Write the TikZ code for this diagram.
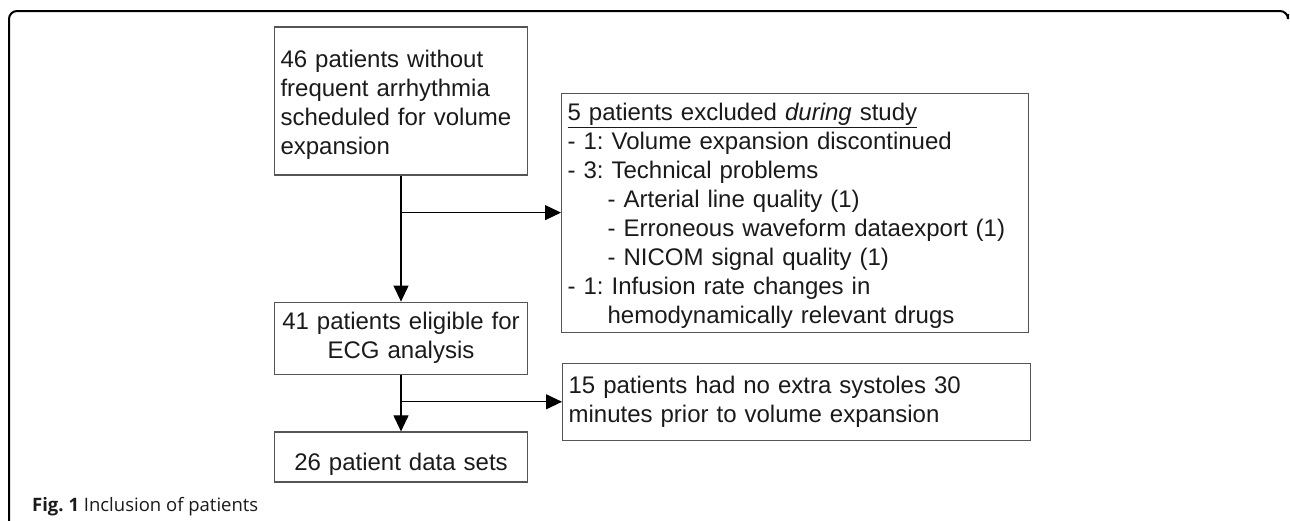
\documentclass[tikz,border=0pt]{standalone}
\usepackage{fontspec}
\setmainfont{Liberation Sans}
\newfontfamily\capfont{Open Sans}
\usetikzlibrary{positioning,arrows.meta,calc}
\frenchspacing

\definecolor{boxline}{HTML}{555555}
\definecolor{boxtext}{HTML}{1A1A1A}
\newcommand{\padtop}[1]{\rule{0pt}{#1}}

\tikzset{
  flowbox/.style={draw=boxline, line width=1.2pt, text=boxtext, inner xsep=6pt, inner ysep=0pt,
    font=\fontsize{24}{29}\selectfont, align=left},
  flowarrow/.style={-{Triangle[length=16pt,width=15pt]}, line width=1.1pt},
}

\begin{document}
\begin{tikzpicture}[x=1pt,y=-1pt]
\useasboundingbox (0,0) rectangle (1290,520);
% frame
\draw[line width=2pt, rounded corners=8pt] (9,521) -- (9,11) -- (1288,11) -- (1288,14);

% main column
\node[flowbox, text width=241pt, minimum height=148pt] (all) at (401,101)
  {\padtop{25pt}46 patients without\\frequent arrhythmia\\scheduled for volume\\expansion};
\node[flowbox, text width=241pt, minimum height=72pt, align=center, below=126pt of all] (eligible)
  {41 patients eligible for\\ECG analysis};
\node[flowbox, text width=241pt, minimum height=50pt, align=center, below=56.6pt of eligible] (datasets)
  {\padtop{31pt}26 patient data sets};

% exclusions
\coordinate[below=37pt of all.south] (split1);
\coordinate[below=27pt of eligible.south] (split2);
\node[flowbox, text width=455pt, minimum height=239pt, right=160pt of split1] (excluded)
  {\padtop{24pt}\underline{5 patients excluded \emph{during} study}\\
   - 1: Volume expansion discontinued\\
   - 3: Technical problems\\
   \hspace*{40pt}- Arterial line quality (1)\\
   \hspace*{40pt}- Erroneous waveform dataexport (1)\\
   \hspace*{40pt}- NICOM signal quality (1)\\
   - 1: Infusion rate changes in\\
   \hspace*{40pt}hemodynamically relevant drugs};
\node[flowbox, text width=456pt, minimum height=76.6pt, right=161pt of split2] (noextra)
  {15 patients had no extra systoles 30\\minutes prior to volume expansion};

\draw[flowarrow] (all) -- (eligible);
\draw[flowarrow] (split1) -- (excluded);
\draw[flowarrow] (eligible) -- (datasets);
\draw[flowarrow] (split2) -- (noextra);

\node[anchor=base west, inner sep=0pt, text=boxtext, font=\capfont\fontsize{18.5}{22}\selectfont] (caption)
  at (32,511) {\textbf{Fig. 1} Inclusion of patients};
\end{tikzpicture}
\end{document}
